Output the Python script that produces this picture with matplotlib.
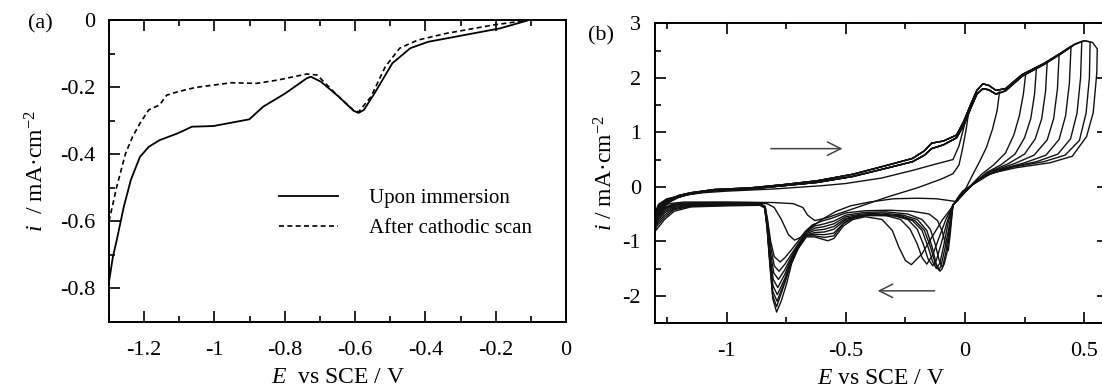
import matplotlib
matplotlib.use('Agg')
import matplotlib.pyplot as plt
from matplotlib.ticker import MultipleLocator, FuncFormatter

plt.rcParams['font.family'] = ['Liberation Serif', 'DejaVu Serif']
plt.rcParams['mathtext.fontset'] = 'custom'
plt.rcParams['mathtext.rm'] = 'Liberation Serif'
plt.rcParams['mathtext.it'] = 'Liberation Serif:italic'

# ---------------- Panel (a): linear sweeps ----------------
a_solid_E = [-1.3, -1.289, -1.278, -1.258, -1.238, -1.212, -1.187, -1.156, -1.105, -1.064,
             -1.003, -0.952, -0.901, -0.861, -0.799, -0.738, -0.726, -0.697, -0.646, -0.605,
             -0.59, -0.575, -0.545, -0.494, -0.443, -0.392, -0.29, -0.188, -0.111]
a_solid_i = [-0.78, -0.706, -0.656, -0.557, -0.477, -0.408, -0.378, -0.358, -0.338, -0.318,
             -0.316, -0.306, -0.296, -0.258, -0.219, -0.174, -0.169, -0.184, -0.229, -0.27,
             -0.277, -0.268, -0.219, -0.129, -0.084, -0.065, -0.045, -0.025, -0.002]
a_dash_E = [-1.3, -1.278, -1.253, -1.233, -1.212, -1.187, -1.156, -1.136, -1.105, -1.054,
            -0.952, -0.881, -0.82, -0.738, -0.708, -0.646, -0.605, -0.59, -0.555, -0.514,
            -0.473, -0.422, -0.341, -0.208, -0.116]
a_dash_i = [-0.60, -0.497, -0.398, -0.348, -0.308, -0.268, -0.253, -0.224, -0.214, -0.201,
            -0.187, -0.189, -0.179, -0.161, -0.164, -0.229, -0.268, -0.274, -0.229, -0.139,
            -0.084, -0.06, -0.04, -0.015, -0.002]
a_labels = ['Upon immersion', 'After cathodic scan']

# ---------------- Panel (b): cyclic voltammograms ----------------
# common anodic (forward) branch: upper and lower edge of the bundle
b_fwd_E = [-1.2, -1.15, -1.05, -0.9, -0.76, -0.62, -0.47, -0.33, -0.22, -0.17, -0.14, -0.09,
           -0.035, -0.005, 0.025, 0.05, 0.075, 0.1, 0.13, 0.17, 0.24, 0.33, 0.40, 0.46, 0.50,
           0.535, 0.555]
b_fwd_hi_i = [-0.16, -0.11, -0.05, -0.02, 0.04, 0.11, 0.23, 0.39, 0.52, 0.66, 0.80, 0.84,
              0.95, 1.20, 1.52, 1.77, 1.89, 1.86, 1.77, 1.80, 2.06, 2.26, 2.45, 2.62, 2.68,
              2.65, 2.53]
b_fwd_lo_i = [-0.19, -0.13, -0.07, -0.04, 0.02, 0.08, 0.19, 0.34, 0.46, 0.58, 0.70, 0.77,
              0.90, 1.13, 1.45, 1.70, 1.80, 1.78, 1.70, 1.76, 2.03, 2.24, 2.43, 2.61, 2.68,
              2.65, 2.53]
# anodic vertex potential of each cycle
b_ea = [0.015, 0.145, 0.255, 0.30, 0.345, 0.395, 0.445, 0.49, 0.525, 0.555]
# start of each forward sweep near the cathodic limit
b_start_E = [-1.285, -1.25]
b_start_i1 = [-0.32, -0.34, -0.36, -0.38, -0.40, -0.42, -0.45, -0.48, -0.50, -0.53]
b_start_i2 = [-0.22, -0.23, -0.24, -0.25, -0.26, -0.27, -0.28, -0.29, -0.30, -0.31]

# cycle 1 has its own (lower) forward branch
b_fwd1 = [(-1.2, -0.17), (-1.1, -0.11), (-1.0, -0.08), (-0.8, -0.04), (-0.6, 0.02),
          (-0.5, 0.06), (-0.35, 0.16), (-0.22, 0.30), (-0.12, 0.42), (-0.05, 0.50),
          (-0.025, 0.75), (-0.01, 1.0), (0.005, 1.25)]

# reverse (cathodic) branches, from the anodic vertex back to -1.3 V
b_rev1 = [(0.015, 1.35), (0.005, 1.05), (-0.01, 0.70), (-0.025, 0.40), (-0.05, 0.24),
          (-0.1, 0.14), (-0.2, -0.02), (-0.32, -0.18), (-0.42, -0.33), (-0.5, -0.45),
          (-0.58, -0.57), (-0.63, -0.62), (-0.66, -0.52), (-0.68, -0.38), (-0.72, -0.31),
          (-0.8, -0.29), (-1.0, -0.28), (-1.18, -0.28), (-1.24, -0.31), (-1.27, -0.36),
          (-1.3, -0.47)]
b_rev2 = [(0.145, 1.74), (0.135, 1.40), (0.115, 1.05), (0.09, 0.72), (0.06, 0.45),
          (0.03, 0.20), (0.005, -0.02), (-0.02, -0.15), (-0.04, -0.27), (-0.07, -0.25),
          (-0.12, -0.22), (-0.2, -0.21), (-0.3, -0.22), (-0.4, -0.28), (-0.48, -0.35),
          (-0.54, -0.45), (-0.6, -0.60), (-0.65, -0.76), (-0.69, -0.93), (-0.715, -0.98),
          (-0.74, -0.88), (-0.77, -0.60), (-0.8, -0.38), (-0.83, -0.31), (-0.9, -0.29),
          (-1.05, -0.29), (-1.18, -0.30), (-1.23, -0.33), (-1.27, -0.40), (-1.3, -0.52)]
b_rev3 = [(0.255, 2.08), (0.245, 1.70), (0.228, 1.30), (0.205, 0.95), (0.17, 0.62),
          (0.12, 0.40), (0.07, 0.23), (0.03, 0.05), (0.0, -0.10), (-0.03, -0.24),
          (-0.05, -0.33), (-0.055, -0.55), (-0.062, -0.88), (-0.07, -1.17), (-0.08, -1.08),
          (-0.095, -0.82), (-0.115, -0.62), (-0.15, -0.50), (-0.22, -0.45), (-0.32, -0.43),
          (-0.42, -0.44), (-0.5, -0.48), (-0.56, -0.58), (-0.6, -0.63), (-0.64, -0.70),
          (-0.67, -0.82), (-0.70, -1.00), (-0.73, -1.17), (-0.755, -1.30), (-0.775, -1.38),
          (-0.80, -1.28), (-0.815, -1.00), (-0.828, -0.60), (-0.838, -0.36), (-0.86, -0.30),
          (-1.0, -0.30), (-1.15, -0.30), (-1.22, -0.32), (-1.26, -0.38), (-1.3, -0.55)]
b_rev4 = [(0.30, 2.19), (0.292, 1.70), (0.276, 1.25), (0.25, 0.90), (0.21, 0.60),
          (0.15, 0.40), (0.09, 0.26), (0.035, 0.06), (0.0, -0.10), (-0.03, -0.24),
          (-0.05, -0.33), (-0.06, -0.70), (-0.075, -1.20), (-0.087, -1.42), (-0.095, -1.48),
          (-0.108, -1.35), (-0.125, -1.05), (-0.145, -0.78), (-0.18, -0.60), (-0.24, -0.50),
          (-0.33, -0.46), (-0.42, -0.47), (-0.5, -0.52), (-0.55, -0.63), (-0.59, -0.68),
          (-0.63, -0.72), (-0.665, -0.82), (-0.70, -1.05), (-0.73, -1.25), (-0.755, -1.42),
          (-0.78, -1.55), (-0.80, -1.45), (-0.815, -1.10), (-0.828, -0.65), (-0.838, -0.37),
          (-0.86, -0.31), (-1.0, -0.31), (-1.15, -0.31), (-1.22, -0.33), (-1.26, -0.40),
          (-1.3, -0.58)]
b_rev5 = [(0.345, 2.29), (0.338, 1.75), (0.322, 1.25), (0.295, 0.88), (0.25, 0.60),
          (0.18, 0.42), (0.10, 0.27), (0.035, 0.05), (0.0, -0.10), (-0.03, -0.24),
          (-0.05, -0.33), (-0.063, -0.70), (-0.08, -1.20), (-0.095, -1.50), (-0.105, -1.55),
          (-0.12, -1.42), (-0.138, -1.10), (-0.16, -0.80), (-0.2, -0.60), (-0.26, -0.52),
          (-0.35, -0.48), (-0.43, -0.50), (-0.5, -0.55), (-0.55, -0.68), (-0.59, -0.73),
          (-0.63, -0.76), (-0.665, -0.84), (-0.70, -1.07), (-0.73, -1.30), (-0.755, -1.52),
          (-0.782, -1.70), (-0.802, -1.58), (-0.816, -1.20), (-0.828, -0.68), (-0.838, -0.37),
          (-0.86, -0.31), (-1.0, -0.31), (-1.15, -0.32), (-1.22, -0.34), (-1.26, -0.42),
          (-1.3, -0.62)]
b_rev6 = [(0.395, 2.43), (0.388, 1.80), (0.372, 1.25), (0.345, 0.86), (0.29, 0.58),
          (0.21, 0.43), (0.11, 0.28), (0.03, 0.04), (0.0, -0.10), (-0.03, -0.24),
          (-0.05, -0.33), (-0.065, -0.70), (-0.085, -1.15), (-0.1, -1.45), (-0.11, -1.53),
          (-0.125, -1.40), (-0.145, -1.10), (-0.17, -0.80), (-0.21, -0.62), (-0.27, -0.53),
          (-0.37, -0.50), (-0.44, -0.52), (-0.5, -0.58), (-0.55, -0.73), (-0.59, -0.78),
          (-0.63, -0.80), (-0.665, -0.86), (-0.70, -1.09), (-0.73, -1.34), (-0.755, -1.60),
          (-0.785, -1.85), (-0.804, -1.70), (-0.817, -1.28), (-0.829, -0.70), (-0.839, -0.37),
          (-0.86, -0.32), (-1.0, -0.32), (-1.15, -0.33), (-1.22, -0.36), (-1.26, -0.45),
          (-1.3, -0.65)]
b_rev7 = [(0.445, 2.58), (0.438, 1.90), (0.422, 1.30), (0.395, 0.87), (0.34, 0.58),
          (0.25, 0.44), (0.13, 0.30), (0.03, 0.03), (0.0, -0.10), (-0.03, -0.24),
          (-0.05, -0.33), (-0.07, -0.65), (-0.09, -1.10), (-0.105, -1.40), (-0.12, -1.50),
          (-0.135, -1.38), (-0.155, -1.10), (-0.18, -0.80), (-0.22, -0.62), (-0.28, -0.54),
          (-0.38, -0.51), (-0.45, -0.54), (-0.5, -0.60), (-0.55, -0.78), (-0.59, -0.83),
          (-0.63, -0.84), (-0.665, -0.88), (-0.70, -1.10), (-0.73, -1.37), (-0.755, -1.68),
          (-0.787, -1.98), (-0.805, -1.82), (-0.818, -1.33), (-0.829, -0.72), (-0.839, -0.37),
          (-0.86, -0.32), (-1.0, -0.33), (-1.15, -0.34), (-1.22, -0.38), (-1.26, -0.48),
          (-1.3, -0.68)]
b_rev8 = [(0.49, 2.67), (0.485, 2.00), (0.47, 1.35), (0.443, 0.88), (0.39, 0.60),
          (0.30, 0.46), (0.17, 0.34), (0.06, 0.15), (0.02, 0.0), (-0.01, -0.12),
          (-0.03, -0.24), (-0.05, -0.33), (-0.075, -0.65), (-0.1, -1.05), (-0.12, -1.35),
          (-0.135, -1.45), (-0.155, -1.32), (-0.175, -1.05), (-0.2, -0.78), (-0.24, -0.60),
          (-0.3, -0.53), (-0.4, -0.52), (-0.46, -0.56), (-0.5, -0.63), (-0.55, -0.85),
          (-0.59, -0.88), (-0.63, -0.87), (-0.665, -0.89), (-0.70, -1.12), (-0.73, -1.39),
          (-0.755, -1.73), (-0.788, -2.10), (-0.806, -1.92), (-0.818, -1.37), (-0.83, -0.73),
          (-0.84, -0.38), (-0.86, -0.33), (-1.0, -0.33), (-1.15, -0.35), (-1.22, -0.40),
          (-1.26, -0.52), (-1.3, -0.72)]
b_rev9 = [(0.525, 2.66), (0.522, 2.00), (0.508, 1.35), (0.48, 0.85), (0.42, 0.58),
          (0.33, 0.46), (0.20, 0.36), (0.08, 0.20), (0.02, 0.0), (-0.01, -0.12),
          (-0.03, -0.24), (-0.05, -0.33), (-0.08, -0.60), (-0.11, -0.95), (-0.135, -1.25),
          (-0.16, -1.42), (-0.18, -1.30), (-0.2, -1.05), (-0.23, -0.78), (-0.27, -0.60),
          (-0.33, -0.53), (-0.42, -0.53), (-0.47, -0.58), (-0.51, -0.68), (-0.55, -0.90),
          (-0.59, -0.93), (-0.63, -0.90), (-0.665, -0.90), (-0.70, -1.13), (-0.73, -1.40),
          (-0.755, -1.76), (-0.79, -2.20), (-0.806, -2.00), (-0.818, -1.40), (-0.83, -0.74),
          (-0.84, -0.38), (-0.86, -0.33), (-1.0, -0.34), (-1.15, -0.36), (-1.22, -0.42),
          (-1.26, -0.56), (-1.3, -0.76)]
b_rev10 = [(0.555, 2.53), (0.553, 2.09), (0.538, 1.36), (0.51, 0.92), (0.45, 0.56),
           (0.356, 0.44), (0.215, 0.35), (0.10, 0.24), (0.018, 0.0), (-0.01, -0.08),
           (-0.03, -0.20), (-0.053, -0.37), (-0.095, -0.61), (-0.138, -0.92), (-0.18, -1.23),
           (-0.225, -1.43), (-0.25, -1.35), (-0.277, -1.11), (-0.305, -0.80), (-0.348, -0.60),
           (-0.418, -0.55), (-0.47, -0.60), (-0.51, -0.72), (-0.55, -0.95), (-0.575, -0.99),
           (-0.6, -0.96), (-0.63, -0.92), (-0.665, -0.92), (-0.70, -1.14), (-0.727, -1.41),
           (-0.748, -1.78), (-0.77, -2.09), (-0.79, -2.30), (-0.806, -2.05), (-0.818, -1.45),
           (-0.83, -0.76), (-0.84, -0.39), (-0.86, -0.34), (-1.0, -0.35), (-1.15, -0.37),
           (-1.22, -0.45), (-1.26, -0.60), (-1.3, -0.82)]
b_revs = [b_rev1, b_rev2, b_rev3, b_rev4, b_rev5, b_rev6, b_rev7, b_rev8, b_rev9, b_rev10]

# scan direction arrows (tail E, head E, i)
b_arrow_fwd = (-0.826, -0.502, 0.70)
b_arrow_rev = (-0.116, -0.378, -1.91)

# ---------------- figure ----------------
W, H = 1102, 390
fig = plt.figure(figsize=(W / 100, H / 100), dpi=100)
axa = fig.add_axes([109 / W, 1 - 322 / H, (566 - 109) / W, (322 - 20) / H])
axb = fig.add_axes([655 / W, 1 - 323 / H, (1108 - 655) / W, (323 - 23.3) / H])

fmt = FuncFormatter(lambda v, p: '%g' % (round(v, 3) + 0.0))
TICK_FS = 16
LABEL_FS = 17

for ax in (axa, axb):
    for s in ax.spines.values():
        s.set_linewidth(1.4)
    ax.tick_params(which='both', direction='in', top=True, width=1.2,
                   labelsize=TICK_FS)
    ax.tick_params(which='major', length=8)
    ax.tick_params(which='minor', length=4.5)
    ax.tick_params(axis='x', pad=14)
    ax.tick_params(axis='y', pad=10)
    ax.xaxis.set_major_formatter(fmt)
    ax.yaxis.set_major_formatter(fmt)

# panel (a)
axa.plot(a_solid_E, a_solid_i, color='black', lw=1.3, label=a_labels[0])
axa.plot(a_dash_E, a_dash_i, color='black', lw=1.2, ls=(0, (3, 2)), label=a_labels[1])
axa.set_xlim(-1.3, 0)
axa.set_ylim(-0.9, 0)
axa.xaxis.set_major_locator(MultipleLocator(0.2))
axa.xaxis.set_minor_locator(MultipleLocator(0.1))
axa.yaxis.set_major_locator(MultipleLocator(0.2))
axa.yaxis.set_minor_locator(MultipleLocator(0.1))
axa.tick_params(which='both', right=False)
axa.set_xlabel(r'$E$  vs SCE / V', fontsize=LABEL_FS, labelpad=5)
axa.set_ylabel(r'$i$  / mA·cm$^{-2}$', fontsize=LABEL_FS, labelpad=8)
axa.legend(loc='center left', bbox_to_anchor=(0.371, 0.36), frameon=False,
           fontsize=15, handlelength=2.85, handletextpad=1.5, labelspacing=0.5,
           borderpad=0, borderaxespad=0)

# panel (b)
for k, rev in enumerate(b_revs):
    ea = b_ea[k]
    Es = [rev[-1][0]] + list(b_start_E)
    Is = [rev[-1][1], b_start_i1[k], b_start_i2[k]]
    if k == 0:
        Es += [p[0] for p in b_fwd1]
        Is += [p[1] for p in b_fwd1]
    else:
        fi = b_fwd_hi_i if k % 2 == 0 else b_fwd_lo_i
        for e, v in zip(b_fwd_E, fi):
            if e < ea:
                Es.append(e)
                Is.append(v)
    Es += [p[0] for p in rev]
    Is += [p[1] for p in rev]
    axb.plot(Es, Is, color='#111111', lw=1.0)

for (e0, e1, iv) in (b_arrow_fwd, b_arrow_rev):
    axb.annotate('', xy=(e1, iv), xytext=(e0, iv),
                 arrowprops=dict(arrowstyle='->', color='#444444', lw=1.1,
                                 mutation_scale=24))

axb.set_xlim(-1.3, 0.6)
axb.set_ylim(-2.5, 3)
axb.xaxis.set_major_locator(MultipleLocator(0.5))
axb.xaxis.set_minor_locator(MultipleLocator(0.25))
axb.yaxis.set_major_locator(MultipleLocator(1))
axb.yaxis.set_minor_locator(MultipleLocator(0.5))
axb.tick_params(which='both', right=True)
axb.set_xlabel(r'$E$ vs SCE / V', fontsize=LABEL_FS, labelpad=5)
axb.set_ylabel(r'$i$ / mA·cm$^{-2}$', fontsize=LABEL_FS, labelpad=4)

fig.text(40 / W, 1 - 24 / H, '(a)', fontsize=16, ha='center', va='center')
fig.text(601 / W, 1 - 36 / H, '(b)', fontsize=16, ha='center', va='center')

fig.savefig('out.png', dpi=100)
